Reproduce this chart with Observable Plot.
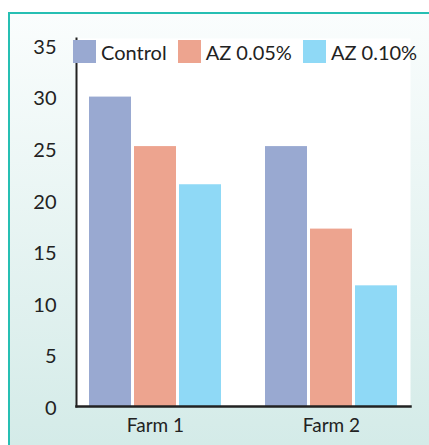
<!DOCTYPE html>
<html><head><meta charset="utf-8">
<script src="https://cdn.jsdelivr.net/npm/d3@7"></script>
<script src="https://cdn.jsdelivr.net/npm/@observablehq/plot@0.6"></script>
<style>
body{margin:0;}
#wrap{position:relative;width:429px;height:445px;background:#fff;overflow:hidden;font-family:Lato,sans-serif;}
#panel{position:absolute;left:8px;top:12px;width:421px;height:433px;box-sizing:border-box;border-top:2px solid #26bfb3;border-left:2px solid #26bfb3;background:linear-gradient(to bottom,#fafdfd,#d4ebe8);}
#chart{position:absolute;left:0;top:0;}
#legend{position:absolute;left:73px;top:35px;}
.lg-swatch{margin-right:11px !important;}
.lg-swatch > svg{margin-right:5px !important;}
</style></head><body>
<div id="wrap"><div id="panel"></div><div id="chart"></div><div id="legend"></div></div>
<script>
const farms = ["Farm 1", "Farm 2"];
const treatments = ["Control", "AZ 0.05%", "AZ 0.10%"];
const farm1Values = [30, 25.2, 21.5];
const farm2Values = [25.2, 17.2, 11.7];
const colors = ["#99a9d1", "#eda48f", "#8fd9f6"];
const yTicks = [0, 5, 10, 15, 20, 25, 30, 35];

const data = [];
treatments.forEach((t, i) => data.push({farm: farms[0], treatment: t, value: farm1Values[i]}));
treatments.forEach((t, i) => data.push({farm: farms[1], treatment: t, value: farm2Values[i]}));

const plot = Plot.plot({
  width: 429, height: 445,
  marginLeft: 64, marginRight: 6, marginTop: 38, marginBottom: 39,
  style: {background: "transparent", fontFamily: "Lato, sans-serif", color: "#222"},
  fx: {domain: farms, paddingInner: 0.1, paddingOuter: 0.065, label: null},
  x: {domain: treatments, paddingInner: 0.065, paddingOuter: 0.263, axis: null},
  y: {domain: [0, 35.68], label: null},
  color: {domain: treatments, range: colors},
  marks: [
    Plot.frame({facet: "super", fill: "white", stroke: null}),
    Plot.barY(data, {fx: "farm", x: "treatment", y: "value", fill: "treatment"}),
    Plot.frame({facet: "super", anchor: "left", stroke: "#222", strokeWidth: 2}),
    Plot.frame({facet: "super", anchor: "bottom", stroke: "#222", strokeWidth: 2.5}),
    Plot.axisY({ticks: yTicks, tickSize: 0, tickPadding: 20, fontSize: 20, label: null, tickFormat: d => String(d), dy: 2}),
    Plot.axisFx({anchor: "bottom", tickSize: 0, tickPadding: 12, fontSize: 19, label: null})
  ]
});
document.getElementById("chart").appendChild(plot);

const legend = Plot.legend({
  color: {domain: treatments, range: colors},
  legend: "swatches",
  swatchSize: 23,
  className: "lg",
  style: {fontSize: "20px", fontFamily: "Lato, sans-serif", color: "#222"}
});
document.getElementById("legend").appendChild(legend);
</script>
</body></html>
